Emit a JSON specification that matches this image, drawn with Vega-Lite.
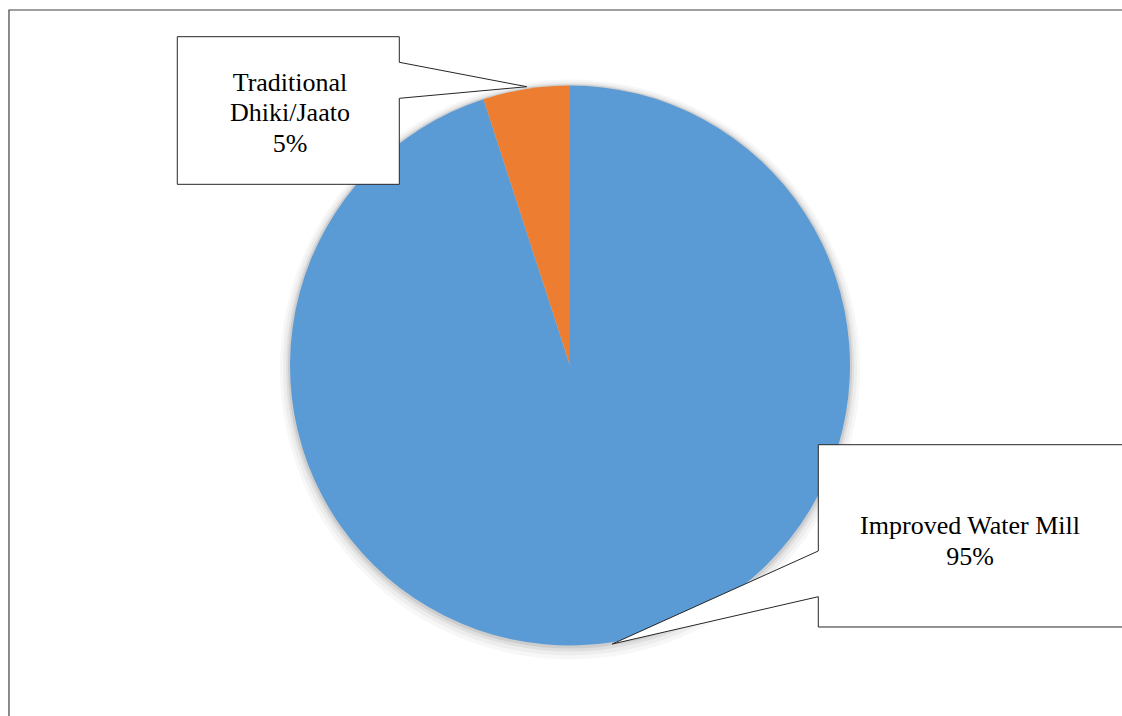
{
  "$schema": "https://vega.github.io/schema/vega-lite/v6.json",
  "width": 1104,
  "height": 701,
  "autosize": {"type": "none"},
  "padding": {"left": 18, "top": 15, "right": 0, "bottom": 0},
  "background": "white",
  "config": {"view": {"stroke": null}},
  "datasets": {
    "shares": [
      {"source": "Improved Water Mill", "share": 95, "o": 1},
      {"source": "Traditional Dhiki/Jaato", "share": 5, "o": 2}
    ],
    "frame": [{"x": -200.36, "x2": 203, "y": 126.96, "y2": -129}],
    "callouts": [
      {"callout": "Traditional", "v": 1, "x": -140.25, "y": 117.43},
      {"callout": "Traditional", "v": 2, "x": -60.96, "y": 117.43},
      {"callout": "Traditional", "v": 3, "x": -60.96, "y": 108.29},
      {"callout": "Traditional", "v": 4, "x": -15.46, "y": 99.57},
      {"callout": "Traditional", "v": 5, "x": -60.96, "y": 95.43},
      {"callout": "Traditional", "v": 6, "x": -60.96, "y": 64.71},
      {"callout": "Traditional", "v": 7, "x": -140.25, "y": 64.71},
      {"callout": "Traditional", "v": 8, "x": -140.25, "y": 117.43},
      {"callout": "Improved", "v": 1, "x": 88.68, "y": -28.29},
      {"callout": "Improved", "v": 2, "x": 202.5, "y": -28.29},
      {"callout": "Improved", "v": 3, "x": 202.5, "y": -93.39},
      {"callout": "Improved", "v": 4, "x": 88.68, "y": -93.39},
      {"callout": "Improved", "v": 5, "x": 88.68, "y": -82.57},
      {"callout": "Improved", "v": 6, "x": 15.11, "y": -99.46},
      {"callout": "Improved", "v": 7, "x": 88.68, "y": -66.25},
      {"callout": "Improved", "v": 8, "x": 88.68, "y": -28.29}
    ],
    "labels": [
      {"label": "Traditional\nDhiki/Jaato\n5%", "x": -100, "y": 98.04},
      {"label": "Improved Water Mill\n95%", "x": 142.86, "y": -60.32}
    ]
  },
  "layer": [
    {
      "data": {"values": [{}]},
      "mark": {"type": "arc", "theta": 0, "theta2": 6.2832, "radius": 290, "yOffset": 4, "fill": "#000000", "fillOpacity": 0.03, "stroke": null},
      "encoding": {}
    },
    {
      "data": {"values": [{}]},
      "mark": {"type": "arc", "theta": 0, "theta2": 6.2832, "radius": 287, "yOffset": 3, "fill": "#000000", "fillOpacity": 0.04, "stroke": null},
      "encoding": {}
    },
    {
      "data": {"values": [{}]},
      "mark": {"type": "arc", "theta": 0, "theta2": 6.2832, "radius": 284, "yOffset": 2, "fill": "#000000", "fillOpacity": 0.06, "stroke": null},
      "encoding": {}
    },
    {
      "data": {"values": [{}]},
      "mark": {"type": "arc", "theta": 0, "theta2": 6.2832, "radius": 282, "yOffset": 1, "fill": "#000000", "fillOpacity": 0.08, "stroke": null},
      "encoding": {}
    },
    {
      "data": {"name": "shares"},
      "mark": {"type": "arc", "radius": 280, "stroke": null},
      "encoding": {
        "theta": {"field": "share", "type": "quantitative", "stack": true},
        "order": {"field": "o", "type": "quantitative"},
        "color": {
          "field": "source",
          "type": "nominal",
          "scale": {"domain": ["Improved Water Mill", "Traditional Dhiki/Jaato"], "range": ["#5B9BD5", "#ED7D31"]},
          "legend": null
        }
      }
    },
    {
      "data": {"name": "frame"},
      "mark": {"type": "rect", "fill": null, "stroke": "#404040", "strokeWidth": 1.2},
      "encoding": {
        "x": {"field": "x", "type": "quantitative", "scale": {"domain": [-197.14, 197.14], "nice": false, "zero": false}, "axis": null},
        "x2": {"field": "x2"},
        "y": {"field": "y", "type": "quantitative", "scale": {"domain": [-125.18, 125.18], "nice": false, "zero": false}, "axis": null},
        "y2": {"field": "y2"}
      }
    },
    {
      "data": {"name": "callouts"},
      "mark": {"type": "line", "fill": "white", "stroke": "#262626", "strokeWidth": 1, "interpolate": "linear"},
      "encoding": {
        "x": {"field": "x", "type": "quantitative", "scale": {"domain": [-197.14, 197.14], "nice": false, "zero": false}, "axis": null},
        "y": {"field": "y", "type": "quantitative", "scale": {"domain": [-125.18, 125.18], "nice": false, "zero": false}, "axis": null},
        "order": {"field": "v", "type": "quantitative"},
        "detail": {"field": "callout", "type": "nominal"}
      }
    },
    {
      "data": {"name": "labels"},
      "mark": {"type": "text", "font": "Liberation Serif", "fontSize": 26, "lineHeight": 30.5, "align": "center", "baseline": "alphabetic", "lineBreak": "\n", "color": "#000000"},
      "encoding": {
        "x": {"field": "x", "type": "quantitative", "scale": {"domain": [-197.14, 197.14], "nice": false, "zero": false}, "axis": null},
        "y": {"field": "y", "type": "quantitative", "scale": {"domain": [-125.18, 125.18], "nice": false, "zero": false}, "axis": null},
        "text": {"field": "label", "type": "nominal"}
      }
    }
  ]
}
